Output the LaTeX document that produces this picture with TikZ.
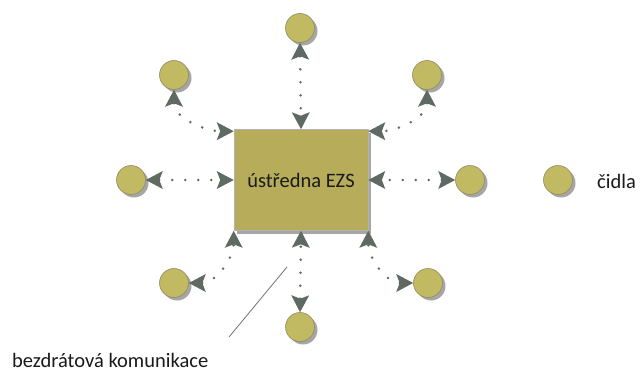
\documentclass[tikz,border=0pt]{standalone}
\usepackage{fontspec}
\setmainfont{Carlito}
\usetikzlibrary{arrows.meta,shadows}
\definecolor{olivefill}{HTML}{C1BA62}
\definecolor{boxfill}{HTML}{B6AC5A}
\definecolor{olivedraw}{HTML}{8F8B62}
\definecolor{linkcol}{HTML}{5E6A62}
\definecolor{txtcol}{HTML}{1A1A1A}
\begin{document}
\begin{tikzpicture}[x=1pt,y=-1pt,
  sensor/.style={circle,minimum size=29pt,inner sep=0pt,fill=olivefill,draw=olivedraw,line width=0.6pt,
    drop shadow={shadow xshift=3pt,shadow yshift=-3pt,fill=black!35,opacity=1}},
  panel/.style={rectangle,minimum width=134pt,minimum height=101pt,fill=boxfill,draw=black!30,line width=0.6pt,
    drop shadow={shadow xshift=3pt,shadow yshift=-3pt,fill=black!35,opacity=1}},
  tipshape/.tip={Stealth[length=17pt,width=18pt,inset=3.5pt,line width=0pt]},
  link/.style={linkcol,line width=2.8pt,line cap=round,dash pattern=on 0pt off 13pt,tipshape-tipshape},
  lbl/.style={font=\fontsize{20.5}{24}\selectfont,text=txtcol,inner sep=0pt}
]
\useasboundingbox (0,0) rectangle (644,372);

% central panel
\node[panel,lbl] (ezs) at (301,180) {ústředna EZS};

% sensors around the panel
\node[sensor] (s1) at (300,28) {};
\node[sensor] (s2) at (174,75) {};
\node[sensor] (s3) at (427,75) {};
\node[sensor] (s4) at (131,180) {};
\node[sensor] (s5) at (470,180) {};
\node[sensor] (s6) at (174,283) {};
\node[sensor] (s7) at (300,327) {};
\node[sensor] (s8) at (428,283) {};

% wireless links
\draw[link] (s1.south) -- (ezs.north);
\draw[link] (s2.south) to[out=-90,in=180] ([yshift=-2pt]ezs.north west);
\draw[link] (s3.south) to[out=-90,in=0] ([yshift=-2pt]ezs.north east);
\draw[link] (s4.east) -- (ezs.west);
\draw[link] (s5.west) -- (ezs.east);
\draw[link] (s6.east) to[out=0,in=-90] (ezs.south west);
\draw[link] (s7.north) -- (ezs.south);
\draw[link] (s8.west) to[out=180,in=-90] (ezs.south east);

% legend
\node[sensor] (leg) at (558,180) {};
\node[lbl,anchor=base west] (legtxt) at (597,188) {čidla};

% callout for the links
\node[lbl,anchor=base west] (wl) at (12,367) {bezdrátová komunikace};
\coordinate (c1) at (229,337);
\coordinate (c2) at (287,267);
\draw[black!55,line width=0.8pt] (c1) -- (c2);
\end{tikzpicture}
\end{document}
